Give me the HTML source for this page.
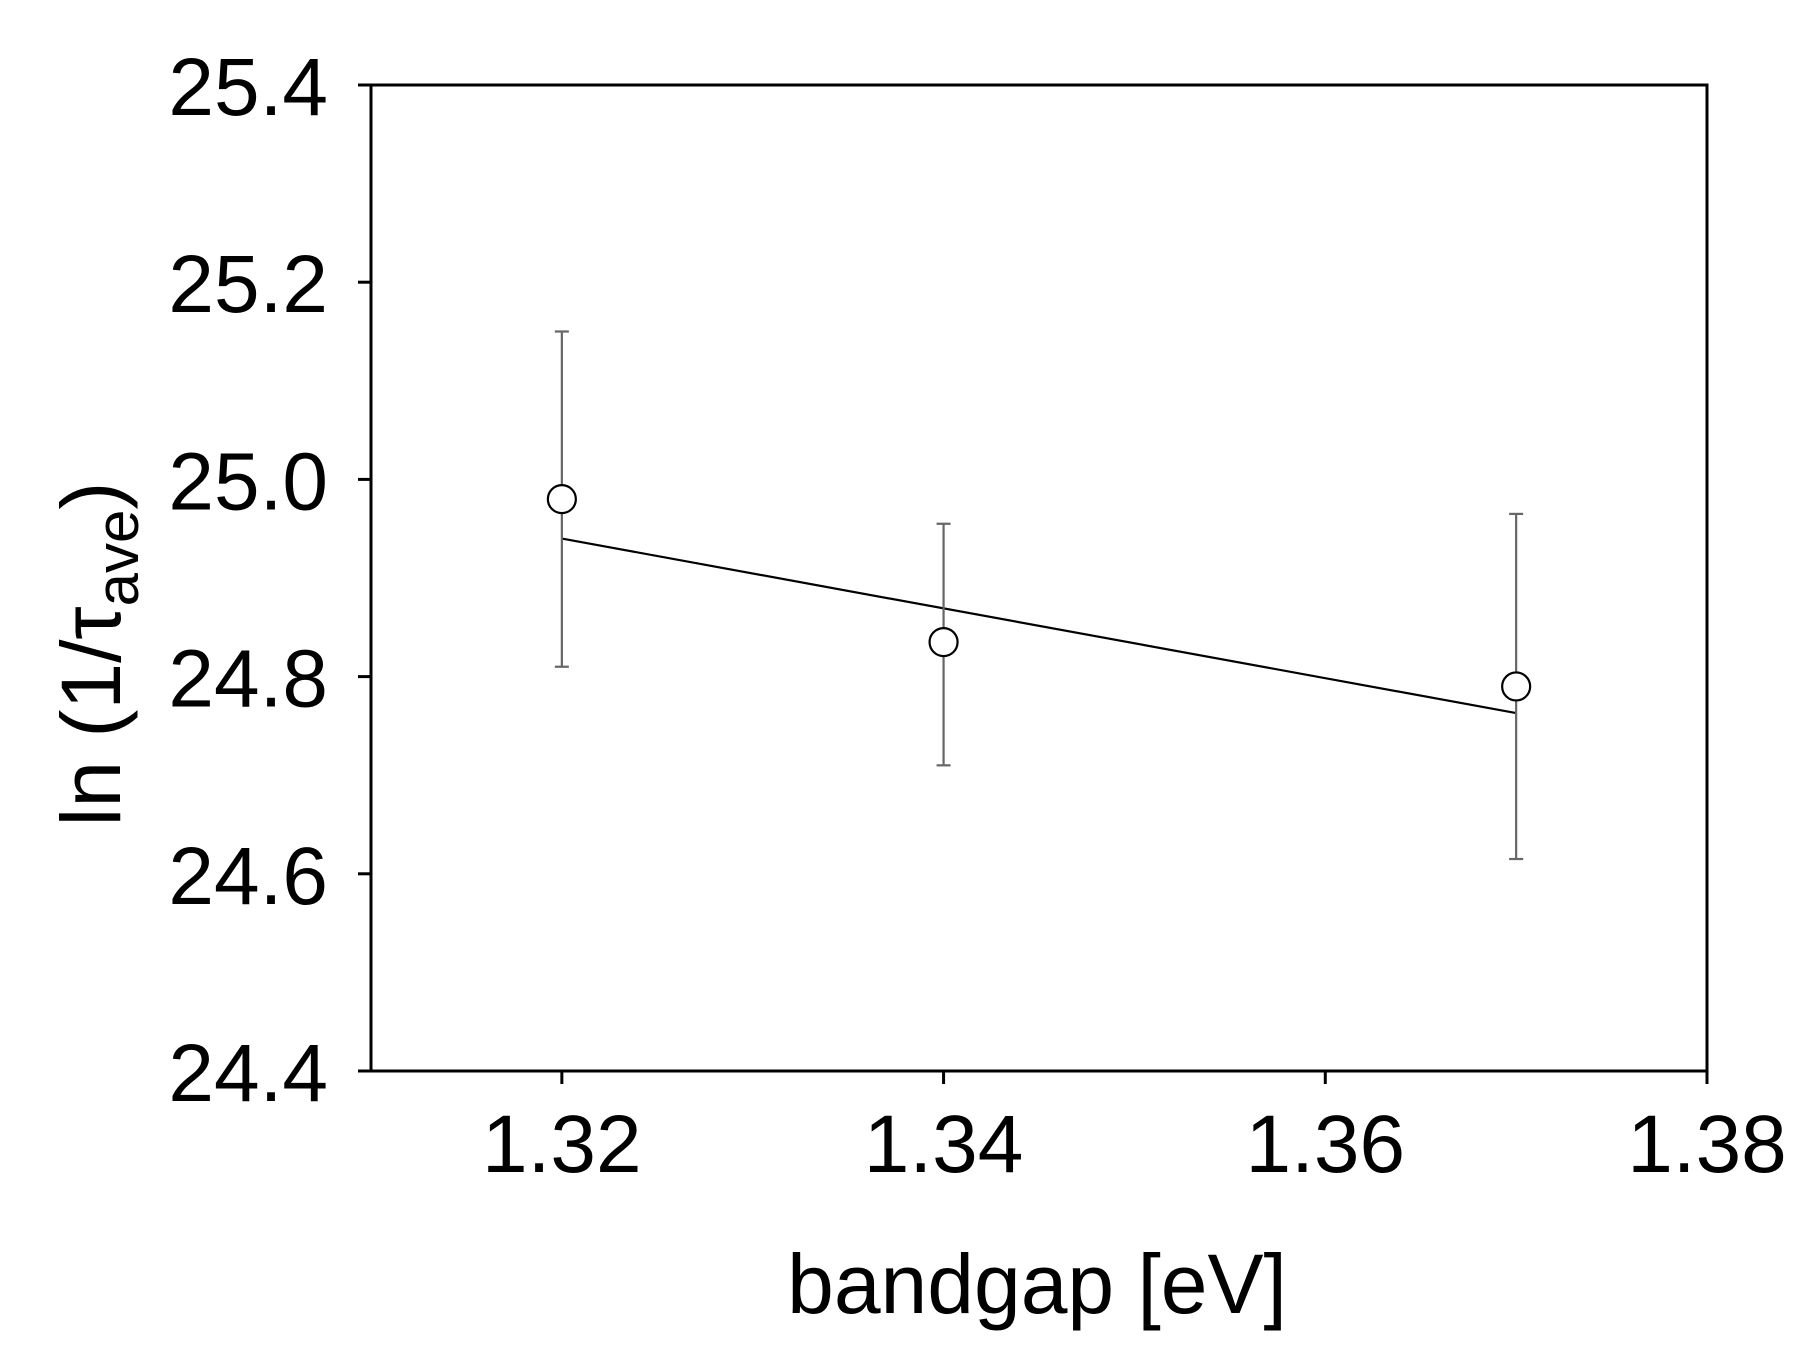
<!DOCTYPE html>
<html><head><meta charset="utf-8"><style>
body{margin:0;background:#fff}
svg{display:block}
text{font-family:"Liberation Sans",Arial,sans-serif;fill:#000}
</style></head><body>
<svg id="chart" width="1806" height="1348" viewBox="0 0 1806 1348">
<rect x="0" y="0" width="1806" height="1348" fill="#fff"/>
<g id="axes"></g>
<g id="marks"></g>
<text x="1037" y="1313" font-size="84" text-anchor="middle">bandgap [eV]</text>
<text transform="translate(120,654) rotate(-90)" font-size="84" text-anchor="middle">ln (1/τ<tspan font-size="60" dy="18">ave</tspan><tspan dy="-18">)</tspan></text>
</svg>
<script>
const xTicks=[1.32,1.34,1.36,1.38];
const xTickLabels=["1.32","1.34","1.36","1.38"];
const yTicks=[24.4,24.6,24.8,25.0,25.2,25.4];
const yTickLabels=["24.4","24.6","24.8","25.0","25.2","25.4"];
const bandgap=[1.32,1.34,1.37];
const lnRate=[24.98,24.835,24.79];
const errHigh=[25.15,24.955,24.965];
const errLow=[24.81,24.71,24.615];
const fitX=[1.32,1.37];
const fitY=[24.94,24.763];

const L=371,R=1707,T=85,B=1071;
const xMin=1.31,xMax=1.38,yMin=24.4,yMax=25.4;
const sx=v=>L+(v-xMin)/(xMax-xMin)*(R-L);
const sy=v=>B-(v-yMin)/(yMax-yMin)*(B-T);
const NS="http://www.w3.org/2000/svg";
function mk(tag,attrs,parent){const e=document.createElementNS(NS,tag);for(const k in attrs)e.setAttribute(k,attrs[k]);parent.appendChild(e);return e;}
const axes=document.getElementById('axes'),marks=document.getElementById('marks');
const frame=mk('rect',{x:L,y:T,width:R-L,height:B-T,fill:'none',stroke:'#000','stroke-width':3},axes);


xTicks.forEach((v,i)=>{
  const t=mk('line',{x1:sx(v),x2:sx(v),y1:B,y2:B+13,stroke:'#000','stroke-width':3},axes);
  
  
  const tx=mk('text',{x:sx(v),y:1172,'font-size':82,'text-anchor':'middle'},axes);
  tx.textContent=xTickLabels[i];
  
  
});
yTicks.forEach((v,i)=>{
  const t=mk('line',{x1:L-13,x2:L,y1:sy(v),y2:sy(v),stroke:'#000','stroke-width':3},axes);
  
  
  const tx=mk('text',{x:328,y:sy(v)+30,'font-size':82,'text-anchor':'end'},axes);
  tx.textContent=yTickLabels[i];
  
  
});
const fit=mk('line',{x1:sx(fitX[0]),y1:sy(fitY[0]),x2:sx(fitX[1]),y2:sy(fitY[1]),stroke:'#000','stroke-width':2.2},marks);


bandgap.forEach((x,i)=>{
  const X=sx(x);
  const e=mk('line',{x1:X,x2:X,y1:sy(errHigh[i]),y2:sy(errLow[i]),stroke:'#666','stroke-width':2.2},marks);
  
  
  [errHigh[i],errLow[i]].forEach(v=>{
    const c=mk('line',{x1:X-7,x2:X+7,y1:sy(v),y2:sy(v),stroke:'#666','stroke-width':2.2},marks);
    
    
  });
  const p=mk('circle',{cx:X,cy:sy(lnRate[i]),r:14,fill:'#fff',stroke:'#000','stroke-width':2.2},marks);
  
  
});
</script>
</body></html>
